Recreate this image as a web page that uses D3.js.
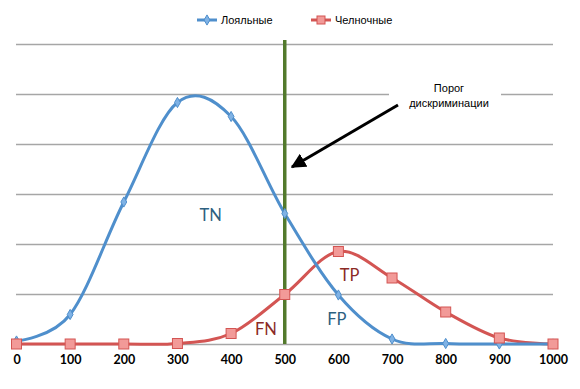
<!DOCTYPE html>
<html><head><meta charset="utf-8">
<script src="https://cdn.jsdelivr.net/npm/d3@7"></script>
<style>body{margin:0;background:#fff}</style>
</head><body>
<svg id="c" width="580" height="389"></svg>
<script>
const categories = [0,100,200,300,400,500,600,700,800,900,1000];
const loyalValues = [0.06,0.59,2.84,4.83,4.55,2.61,0.98,0.1,0.01,0,0];
const shuttleValues = [0,0,0,0.01,0.21,0.99,1.85,1.32,0.64,0.12,0];
const seriesNames = ["Лояльные","Челночные"];
const xTicks = [0,100,200,300,400,500,600,700,800,900,1000];
const yGrid = [0,1,2,3,4,5,6];
const threshold = 500;
const regionLabels = [
  {t:"TN", x:362, y:2.46, c:"#2d6080"},
  {t:"FN", x:465, y:0.18, c:"#8b2a25"},
  {t:"TP", x:621, y:1.26, c:"#8b2a25"},
  {t:"FP", x:597, y:0.38, c:"#2d6080"}
];

const svg = d3.select("#c");
const x = d3.scaleLinear().domain([0,1000]).range([16.5,553]);
const y = d3.scaleLinear().domain([0,6]).range([344,44]);
const blue = "#4f8fcc", red = "#d35553";

// grid
svg.append("g").selectAll("line").data(yGrid).join("line")
  .attr("x1",16).attr("x2",553)
  .attr("y1",d=>y(d)+0.5).attr("y2",d=>y(d)+0.5)
  .attr("stroke","#a6a6a6").attr("stroke-width",1.3);

// x axis labels
const ax = svg.append("g").attr("transform","translate(0,344)")
  .call(d3.axisBottom(x).tickValues(xTicks).tickSize(0).tickPadding(11).tickFormat(d3.format("d")));
ax.select(".domain").remove();
ax.selectAll("text").attr("font-family","Lato, 'Open Sans', sans-serif").attr("font-size",12.5)
  .attr("font-weight","bold").attr("fill","#000");

// annotation box background covering gridline
svg.append("rect").attr("x",389).attr("y",80).attr("width",112).attr("height",30).attr("fill","#fff");

const line = d3.line().x((d,i)=>x(categories[i])).y(d=>y(d)).curve(d3.curveCardinal.tension(0));

// red series
svg.append("path").datum(shuttleValues).attr("d",line).attr("fill","none")
  .attr("stroke",red).attr("stroke-width",3);
// blue series
svg.append("path").datum(loyalValues).attr("d",line).attr("fill","none")
  .attr("stroke",blue).attr("stroke-width",3);

// green threshold
svg.append("line").attr("x1",x(threshold)).attr("x2",x(threshold))
  .attr("y1",40).attr("y2",y(0)).attr("stroke","#537a2c").attr("stroke-width",3.5);

// blue markers (diamonds)
svg.append("g").selectAll("path").data(loyalValues).join("path")
  .attr("d",d3.symbol(d3.symbolDiamond,30))
  .attr("transform",(d,i)=>`translate(${x(categories[i])},${y(d)})`)
  .attr("fill","#7fb2e5").attr("stroke","#4f8fcc").attr("stroke-width",1);
// red markers (squares)
svg.append("g").selectAll("rect").data(shuttleValues).join("rect")
  .attr("x",(d,i)=>x(categories[i])-5).attr("y",d=>y(d)-5)
  .attr("width",10).attr("height",10)
  .attr("fill","#f29a98").attr("stroke","#d35553").attr("stroke-width",1);

// region labels
svg.append("g").selectAll("text").data(regionLabels).join("text")
  .attr("x",d=>x(d.x)).attr("y",d=>y(d.y)).attr("text-anchor","middle")
  .attr("font-family","Lato, 'Open Sans', sans-serif").attr("font-size",16.5)
  .attr("fill",d=>d.c).text(d=>d.t);

// annotation
const ann = svg.append("text").attr("font-family","Arial, 'Liberation Sans', sans-serif")
  .attr("font-size",11).attr("text-anchor","middle").attr("fill","#000");
ann.append("tspan").attr("x",449).attr("y",92).text("Порог");
ann.append("tspan").attr("x",449).attr("y",107).text("дискриминации");

svg.append("defs").append("marker").attr("id","ah").attr("viewBox","0 0 10 10")
  .attr("refX",9).attr("refY",5).attr("markerWidth",5).attr("markerHeight",5)
  .attr("orient","auto").append("path").attr("d","M0,0 L10,5 L0,10 z").attr("fill","#000");
svg.append("line").attr("x1",398).attr("y1",105).attr("x2",292).attr("y2",167)
  .attr("stroke","#000").attr("stroke-width",3).attr("marker-end","url(#ah)");

// legend
const leg = svg.append("g");
const lg = [{n:seriesNames[0],x:197,c:blue,s:"d"},{n:seriesNames[1],x:311,c:red,s:"s"}];
lg.forEach(l=>{
  leg.append("line").attr("x1",l.x).attr("x2",l.x+20).attr("y1",20).attr("y2",20)
    .attr("stroke",l.c).attr("stroke-width",3);
  if(l.s==="d"){
    leg.append("path").attr("d",d3.symbol(d3.symbolDiamond,30)).attr("transform",`translate(${l.x+10},20)`)
      .attr("fill","#7fb2e5").attr("stroke",blue);
  } else {
    leg.append("rect").attr("x",l.x+6).attr("y",16).attr("width",8).attr("height",8)
      .attr("fill","#f29a98").attr("stroke",red);
  }
  leg.append("text").attr("x",l.x+24).attr("y",24).attr("font-family","Arial, 'Liberation Sans', sans-serif")
    .attr("font-size",11).text(l.n);
});
</script>
</body></html>
